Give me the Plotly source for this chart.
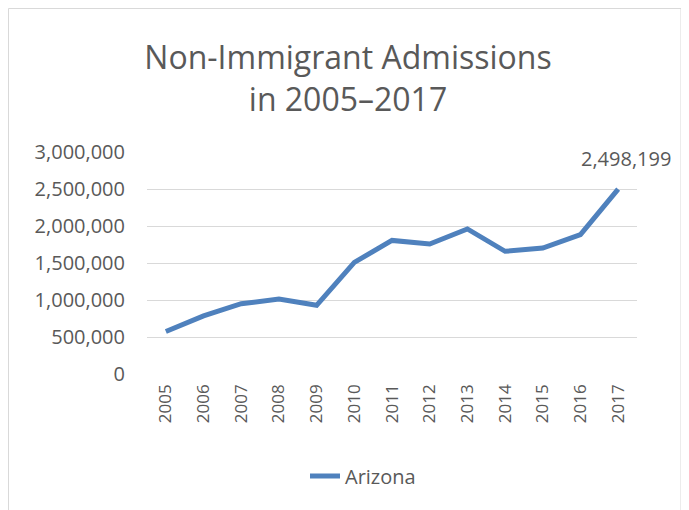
import plotly.graph_objects as go

years = ["2005", "2006", "2007", "2008", "2009", "2010", "2011",
         "2012", "2013", "2014", "2015", "2016", "2017"]
arizona = [575000, 785000, 950000, 1012000, 928000, 1508000, 1805000,
           1757000, 1960000, 1658000, 1702000, 1884000, 2498199]
y_ticks = [0, 500000, 1000000, 1500000, 2000000, 2500000, 3000000]
series_name = "Arizona"
title_text = "Non-Immigrant Admissions<br>in 2005–2017"

FONT = "Open Sans"
GRAY = "#595959"
BLUE = "#4F81BD"

# page body has an 8px margin; build the figure in page coords minus 8
W, H = 681, 502
L, R, T, B = 139, 52, 144, 136
pw, ph = W - L - R, H - T - B


def px_x(p):
    return (p - L) / pw


def px_y(p):
    return (H - B - p) / ph


fig = go.Figure()
fig.add_trace(go.Scatter(
    x=years, y=arizona, mode="lines", name=series_name,
    line=dict(color=BLUE, width=5),
))

last = len(years) - 1
fig.add_annotation(
    x=last, y=arizona[last], xref="x", yref="y",
    text=f"{arizona[last]:,}", showarrow=False,
    xshift=8, yshift=31,
    font=dict(family=FONT, size=20, color=GRAY),
)

fig.add_shape(type="rect", xref="paper", yref="paper",
              x0=px_x(0.5), x1=px_x(673), y0=px_y(530), y1=px_y(0.5),
              line=dict(color="#D9D9D9", width=1), fillcolor="rgba(0,0,0,0)",
              layer="below")

fig.update_layout(
    width=W, height=H,
    margin=dict(l=L, r=R, t=T, b=B),
    paper_bgcolor="white", plot_bgcolor="white",
    title=dict(text=title_text, xref="container", x=340 / W, xanchor="center",
               y=1 - 61 / H, yanchor="middle",
               font=dict(family=FONT, size=32, color=GRAY)),
    font=dict(family=FONT, color=GRAY),
    showlegend=True,
    legend=dict(orientation="h", x=px_x(297), xanchor="left",
                y=px_y(468), yanchor="middle",
                font=dict(family=FONT, size=20, color=GRAY),
                bgcolor="rgba(0,0,0,0)"),
    xaxis=dict(type="category", range=[-0.5, len(years) - 0.5],
               tickangle=-90, showgrid=False, showline=False,
               ticks="", ticklabelstandoff=6,
               tickfont=dict(family=FONT, size=17, color=GRAY),
               zeroline=False),
    yaxis=dict(range=[0, 3000000], tickvals=y_ticks,
               ticktext=[f"{v:,}" for v in y_ticks],
               showgrid=True, gridcolor="#D9D9D9", gridwidth=1,
               zeroline=False, showline=False, ticks="",
               ticklabelstandoff=21,
               tickfont=dict(family=FONT, size=20, color=GRAY)),
)

fig.write_html("out.html")
